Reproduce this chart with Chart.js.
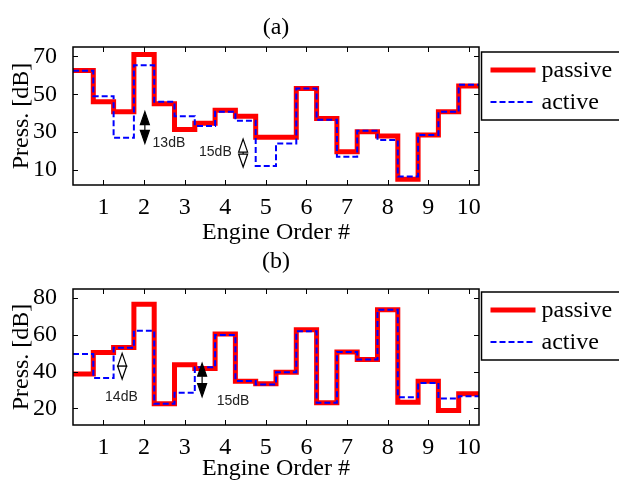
<!DOCTYPE html>
<html>
<head>
<meta charset="utf-8">
<script src="https://cdn.jsdelivr.net/npm/chart.js@4.4.1/dist/chart.umd.min.js"></script>
<style>
  body { margin: 0; background: #fff; }
  #wrap { position: relative; width: 619px; height: 481px; overflow: hidden; }
  canvas { position: absolute; left: 0; }
</style>
</head>
<body>
<div id="wrap">
  <canvas id="chart-a" width="619" height="245" style="top:0"></canvas>
  <canvas id="chart-b" width="619" height="236" style="top:245px"></canvas>
</div>
<script>
// engine orders (step centres), half-order spacing
const orders = [0.5, 1, 1.5, 2, 2.5, 3, 3.5, 4, 4.5, 5, 5.5, 6, 6.5, 7, 7.5, 8, 8.5, 9, 9.5, 10];
const xTicks = [1, 2, 3, 4, 5, 6, 7, 8, 9, 10];

// panel (a)
const passiveA = [62.6, 46, 40.7, 71, 45, 31.4, 34.6, 41.6, 38.4, 27.2, 27.2, 53, 37.2, 19.6, 30.2, 27.9, 5.1, 28.4, 40.7, 54.4];
const activeA  = [62.4, 49, 27, 65.3, 46, 38.4, 33.2, 40.7, 36, 12.1, 24, 53, 36.5, 17, 30.7, 25.8, 6.5, 28.4, 40.7, 55];
const yTicksA = [10, 30, 50, 70];

// panel (b)
const passiveB = [38.8, 50.5, 53.2, 76.7, 22.5, 43.8, 41.7, 60.5, 34.8, 33.4, 39.7, 62.8, 23.1, 50.7, 46.6, 73.7, 23.4, 34.8, 18.9, 28];
const activeB  = [49.6, 36.6, 53, 62.3, 22.5, 28.5, 42.4, 60, 35, 33, 39.7, 62, 23.1, 50.7, 46.6, 73.7, 26.1, 33.9, 25.4, 26.7];
const yTicksB = [20, 40, 60, 80];

// reduction markers: arrow x, arrow ends, label
const notesA = [
    {x: 2.02, y1: 40.8, y2: 24.0, open: false, text: '13dB', tx: 2.21, ty: 23.9, align: 'left'},
    {x: 4.44, y1: 26.3, y2: 11.5, open: true,  text: '15dB', tx: 4.16, ty: 19.4, align: 'right'}
];
const notesB = [
    {x: 1.46, y1: 50.0, y2: 36.0, open: true,  text: '14dB', tx: 1.04, ty: 26.0, align: 'left'},
    {x: 3.43, y1: 44.6, y2: 26.4, open: false, text: '15dB', tx: 3.79, ty: 23.9, align: 'left'}
];

const serif = '"Liberation Serif", "Times New Roman", serif';

const stairs = (vals) => {
    const pts = orders.map((o, i) => ({x: o - 0.25, y: vals[i]}));
    pts.push({x: orders[orders.length - 1] + 0.25, y: vals[vals.length - 1]});
    return pts;
}

const drawArrow = (ctx, px, top, bottom, open) => {
    const hl = 13, hw = 4.5;
    ctx.save();
    ctx.strokeStyle = '#000';
    ctx.lineWidth = 1.2;
    ctx.beginPath();
    ctx.moveTo(px, top + hl);
    ctx.lineTo(px, bottom - hl);
    ctx.stroke();
    [[top, 1], [bottom, -1]].forEach(([tip, dir]) => {
        ctx.beginPath();
        ctx.moveTo(px, tip);
        ctx.lineTo(px - hw, tip + dir * hl);
        ctx.lineTo(px + hw, tip + dir * hl);
        ctx.closePath();
        ctx.fillStyle = open ? '#fff' : '#000';
        ctx.fill();
        ctx.stroke();
    });
    ctx.restore();
}

const framePlugin = {
    id: 'frame',
    afterDraw(chart, args, opts) {
        const {ctx, chartArea: a, scales: {x, y}} = chart;
        ctx.save();
        ctx.strokeStyle = '#000';
        ctx.lineWidth = 1;
        ctx.beginPath();
        xTicks.forEach(v => {
            const px = Math.round(x.getPixelForValue(v)) + 0.5;
            ctx.moveTo(px, a.bottom); ctx.lineTo(px, a.bottom - 5);
            ctx.moveTo(px, a.top); ctx.lineTo(px, a.top + 5);
        });
        opts.yTicks.forEach(v => {
            const py = Math.round(y.getPixelForValue(v)) + 0.5;
            ctx.moveTo(a.left, py); ctx.lineTo(a.left + 5, py);
            ctx.moveTo(a.right, py); ctx.lineTo(a.right - 5, py);
        });
        ctx.stroke();
        ctx.lineWidth = 1.5;
        ctx.strokeRect(a.left, a.top, a.right - a.left, a.bottom - a.top);

        // panel title
        ctx.fillStyle = '#000';
        ctx.font = '24px ' + serif;
        ctx.textAlign = 'center';
        ctx.textBaseline = 'middle';
        ctx.fillText(opts.title, (a.left + a.right) / 2, opts.titleY);

        // legend box
        const lx = a.right + 2.5, ly = a.top + opts.legendDy;
        ctx.lineWidth = 1.5;
        ctx.strokeRect(lx, ly, 160, 68);
        chart.data.datasets.forEach((ds, i) => {
            const yy = ly + 18 + i * 32;
            ctx.save();
            ctx.strokeStyle = ds.borderColor;
            ctx.lineWidth = ds.borderWidth;
            ctx.setLineDash(ds.borderDash || []);
            ctx.beginPath();
            ctx.moveTo(lx + 9, yy);
            ctx.lineTo(lx + 54, yy);
            ctx.stroke();
            ctx.restore();
            ctx.textAlign = 'left';
            ctx.fillText(ds.label, lx + 60, yy + 1);
        });

        // reduction markers
        opts.notes.forEach(n => {
            const px = x.getPixelForValue(n.x);
            drawArrow(ctx, px, y.getPixelForValue(n.y1), y.getPixelForValue(n.y2), n.open);
            ctx.fillStyle = '#222';
            ctx.font = '14px "Liberation Sans", Arial, sans-serif';
            ctx.textAlign = n.align;
            ctx.textBaseline = 'middle';
            ctx.fillText(n.text, x.getPixelForValue(n.tx), y.getPixelForValue(n.ty));
        });
        ctx.restore();
    }
};

const stepChart = (elname, passive, active, yMin, yMax, yTicks, cfg) => {
    const ctx = document.getElementById(elname);
    new Chart(ctx, {
        type: 'line',
        data: {
            datasets: [{
                label: 'passive',
                data: stairs(passive),
                stepped: 'before',
                borderColor: '#ff0000',
                borderWidth: 5,
                borderJoinStyle: 'miter',
                pointRadius: 0,
                order: 1
            }, {
                label: 'active',
                data: stairs(active),
                stepped: 'before',
                borderColor: '#0000ff',
                borderWidth: 2,
                borderDash: [6, 3],
                pointRadius: 0,
                order: 0
            }]
        },
        options: {
            responsive: false,
            animation: false,
            devicePixelRatio: 1,
            layout: {padding: {left: 0, right: 140, top: cfg.top, bottom: 0}},
            plugins: {
                legend: {display: false},
                tooltip: {enabled: false},
                frame: {title: cfg.title, titleY: cfg.titleY, legendDy: cfg.legendDy, yTicks: yTicks, notes: cfg.notes}
            },
            scales: {
                x: {
                    type: 'linear',
                    min: 0.25,
                    max: 10.25,
                    grid: {display: false},
                    border: {display: false},
                    afterBuildTicks: (scale) => { scale.ticks = xTicks.map(v => ({value: v})); },
                    afterFit: (scale) => { scale.height = cfg.xHeight; },
                    ticks: {padding: 0, color: '#000', font: {family: serif, size: 24}},
                    title: {display: true, text: 'Engine Order #', color: '#000', padding: 0,
                            font: {family: serif, size: 24, lineHeight: 1}}
                },
                y: {
                    min: yMin,
                    max: yMax,
                    grid: {display: false},
                    border: {display: false},
                    afterBuildTicks: (scale) => { scale.ticks = yTicks.map(v => ({value: v})); },
                    afterFit: (scale) => { scale.width = 73; },
                    ticks: {padding: 8, color: '#000', font: {family: serif, size: 24}},
                    title: {display: true, text: 'Press. [dB]', color: '#000', padding: {top: 10},
                            font: {family: serif, size: 24, lineHeight: 1}}
                }
            }
        },
        plugins: [framePlugin]
    });
}

stepChart('chart-a', passiveA, activeA, 2, 75, yTicksA,
    {top: 47, xHeight: 60, title: '(a)', titleY: 28, legendDy: 5, notes: notesA});
stepChart('chart-b', passiveB, activeB, 11, 85, yTicksB,
    {top: 44, xHeight: 56, title: '(b)', titleY: 17, legendDy: 3, notes: notesB});
</script>
</body>
</html>
